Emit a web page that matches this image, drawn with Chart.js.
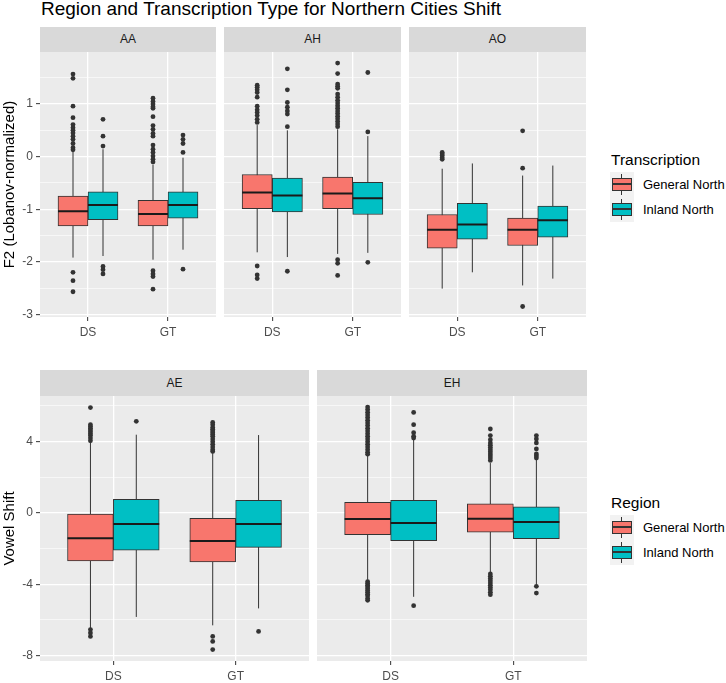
<!DOCTYPE html>
<html>
<head>
<meta charset="utf-8">
<title>Region and Transcription Type for Northern Cities Shift</title>
<script src="https://cdn.jsdelivr.net/npm/chart.js@4.4.0/dist/chart.umd.min.js"></script>
<style>
    body { margin: 0; background: #fff; font-family: "Liberation Sans", Arial, sans-serif; }
    #page { position: relative; width: 726px; height: 683px; overflow: hidden; background: #fff; }
    .panel { position: absolute; }
    .strip { position: absolute; background: #D9D9D9; color: #1A1A1A; font-size: 12px; text-align: center; }
    .title { position: absolute; left: 41px; top: -1px; font-size: 19px; line-height: 20px; color: #000; white-space: nowrap; }
    .ltitle { position: absolute; font-size: 15.5px; line-height: 18px; color: #000; white-space: nowrap; }
    .ltext { position: absolute; font-size: 13px; line-height: 18px; color: #000; white-space: nowrap; }
    .key { position: absolute; width: 24px; height: 25px; background: #F2F2F2; }
    .key .wh { position: absolute; left: 11px; top: 2px; width: 1px; height: 21px; background: #333; }
    .key .bx { position: absolute; left: 2px; top: 6px; width: 18px; height: 11px; border: 1px solid #333; }
    .key .md { position: absolute; left: 3px; top: 11px; width: 18px; height: 2px; background: #333; }
</style>
</head>
<body>
<div id="page">
    <div class="title">Region and Transcription Type for Northern Cities Shift</div>
</div>
<script>
    // categories and series
    var groups = ['DS', 'GT'];
    var seriesNames = ['General North', 'Inland North'];
    var seriesColors = ['#F8766D', '#00BFC4'];

    // box stats per group (DS, GT): [lower whisker, Q1, median, Q3, upper whisker]
    var aaGeneral = [[-1.92, -1.32, -1.04, -0.75, 0.10], [-1.96, -1.32, -1.09, -0.83, -0.15]];
    var aaInland = [[-1.89, -1.20, -0.92, -0.67, 0.14], [-1.77, -1.17, -0.92, -0.67, -0.02]];
    var ahGeneral = [[-1.82, -0.99, -0.68, -0.34, 0.60], [-1.85, -0.99, -0.70, -0.39, 0.52]];
    var ahInland = [[-1.91, -1.05, -0.74, -0.41, 0.50], [-1.83, -1.10, -0.79, -0.49, 0.39]];
    var aoGeneral = [[-2.51, -1.74, -1.39, -1.10, -0.23], [-2.45, -1.69, -1.39, -1.17, -0.36]];
    var aoInland = [[-2.20, -1.57, -1.29, -0.89, -0.13], [-2.32, -1.53, -1.21, -0.94, -0.17]];
    var aeGeneral = [[-6.45, -2.69, -1.42, -0.06, 3.93], [-6.30, -2.75, -1.57, -0.30, 3.36]];
    var aeInland = [[-5.83, -2.09, -0.62, 0.77, 4.39], [-5.35, -1.93, -0.62, 0.71, 4.37]];
    var ehGeneral = [[-3.75, -1.21, -0.34, 0.60, 3.20], [-3.36, -1.07, -0.32, 0.52, 2.80]];
    var ehInland = [[-4.70, -1.55, -0.56, 0.71, 4.11], [-4.02, -1.44, -0.50, 0.34, 2.99]];

    // outliers per group (DS, GT)
    var aaGeneralOut = [[1.57, 1.49, 0.96, 0.74, 0.61, 0.55, 0.50, 0.45, 0.39, 0.33, 0.25, 0.17, 0.13, -2.20, -2.36, -2.57],
        [1.11, 1.05, 1.00, 0.95, 0.92, 0.76, 0.59, 0.52, 0.44, 0.39, 0.22, 0.14, 0.08, 0.01, -0.05, -0.10, -2.17, -2.23, -2.28, -2.52]];
    var aaInlandOut = [[0.71, 0.39, 0.20, -2.09, -2.15, -2.23], [0.41, 0.33, 0.25, 0.08, -2.14]];
    var ahGeneralOut = [[1.36, 1.32, 1.27, 1.22, 1.13, 0.96, 0.89, 0.84, 0.78, 0.71, 0.65, -2.08, -2.25, -2.32],
        [1.78, 1.58, 1.38, 1.34, 1.30, 1.19, 1.13, 1.07, 1.02, 0.97, 0.92, 0.87, 0.82, 0.77, 0.72, 0.67, 0.62, 0.57, -1.96, -2.03, -2.26]];
    var ahInlandOut = [[1.67, 1.27, 1.03, 0.94, 0.87, 0.81, 0.57, -2.18], [1.60, 0.47, -2.01]];
    var aoGeneralOut = [[0.08, 0.05, 0.02, -0.02, -0.05], [0.49, -0.22, -2.85]];
    var aoInlandOut = [[], []];
    var aeGeneralOut = [[5.91, 4.95, 4.85, 4.75, 4.65, 4.55, 4.45, 4.35, 4.20, 4.05, -6.54, -6.73, -6.92],
        [5.08, 4.95, 4.80, 4.70, 4.60, 4.50, 4.40, 4.30, 4.15, 4.00, 3.85, 3.70, 3.55, 3.45, -6.92, -7.20, -7.66]];
    var aeInlandOut = [[5.14], [-6.64]];
    var ehGeneralOut = [[5.94, 5.80, 5.65, 5.50, 5.35, 5.20, 5.05, 4.90, 4.75, 4.60, 4.45, 4.30, 4.15, 4.00, 3.85, 3.70, 3.55, 3.40, 3.30,
        -3.85, -3.95, -4.05, -4.15, -4.25, -4.35, -4.45, -4.55, -4.65, -4.80, -4.90],
        [4.71, 4.34, 4.11, 3.93, 3.80, 3.67, 3.55, 3.43, 3.31, 3.20, 3.08, 2.95, -3.42, -3.55, -3.68, -3.80, -3.92, -4.05, -4.18, -4.30, -4.45, -4.58]];
    var ehInlandOut = [[5.64, 4.95, 4.50, 4.30, 4.20, -5.20], [4.34, 4.15, 3.93, 3.59, 3.31, 3.20, 3.08, -4.11, -4.49]];

    // y tick settings per row
    var topTicks = { min: -3.05, max: 1.99, minor: 0.5, major: 1 };
    var bottomTicks = { min: -8.3, max: 6.56, minor: 2, major: 4 };

    Chart.defaults.font.family = '"Liberation Sans", Arial, sans-serif';
    Chart.defaults.animation = false;
    Chart.defaults.plugins.legend.display = false;
    Chart.defaults.plugins.tooltip.enabled = false;

    var page = document.getElementById('page');

    // grey panel background
    var panelBg = {
        id: 'panelBg',
        beforeDraw: function (chart) {
            var a = chart.chartArea;
            var ctx = chart.ctx;
            ctx.save();
            ctx.fillStyle = '#EBEBEB';
            ctx.fillRect(a.left, a.top, a.right - a.left, a.bottom - a.top);
            ctx.restore();
        }
    };

    function buildDatasets(general, inland, generalOut, inlandOut, boxPx) {
        var stats = [general, inland];
        var outs = [generalOut, inlandOut];
        var datasets = [];
        var whiskers = [], medians = [], points = [];
        for (var s = 0; s < 2; s++) {
            var shift = s === 0 ? -0.1875 : 0.1875;
            var boxes = [];
            for (var g = 0; g < groups.length; g++) {
                var x = g + 1 + shift;
                var st = stats[s][g];
                boxes.push({ x: x, y: [st[1], st[3]] });
                whiskers.push({ x: x, y: st[0] }, { x: x, y: st[4] }, { x: x, y: null });
                medians.push({ x: x - 0.1875, y: st[2] }, { x: x + 0.1875, y: st[2] }, { x: x, y: null });
                outs[s][g].forEach(function (v) {
                    points.push({ x: x, y: v });
                });
            }
            datasets.push({
                type: 'bar',
                label: seriesNames[s],
                data: boxes,
                backgroundColor: seriesColors[s],
                borderColor: '#333333',
                borderWidth: 1,
                borderSkipped: false,
                grouped: false,
                barThickness: boxPx,
                order: 2
            });
        }
        datasets.push({
            type: 'line', label: 'whiskers', data: whiskers,
            borderColor: '#333333', borderWidth: 1, pointRadius: 0, spanGaps: false, order: 3
        });
        datasets.push({
            type: 'line', label: 'medians', data: medians,
            borderColor: '#1A1A1A', borderWidth: 2, pointRadius: 0, spanGaps: false, order: 0
        });
        datasets.push({
            type: 'scatter', label: 'outliers', data: points,
            backgroundColor: '#333333', borderWidth: 0, pointRadius: 2.4, order: 1
        });
        return datasets;
    }

    function makePanel(p) {
        var areaW = p.width - p.axisW;
        var strip = document.createElement('div');
        strip.className = 'strip';
        strip.style.left = (p.left + p.axisW) + 'px';
        strip.style.top = p.stripTop + 'px';
        strip.style.width = areaW + 'px';
        strip.style.height = (p.top - p.stripTop) + 'px';
        strip.style.lineHeight = (p.top - p.stripTop) + 'px';
        strip.textContent = p.name;
        page.appendChild(strip);

        var wrap = document.createElement('div');
        wrap.className = 'panel';
        wrap.style.left = p.left + 'px';
        wrap.style.top = p.top + 'px';
        wrap.style.width = p.width + 'px';
        wrap.style.height = p.height + 'px';
        var canvas = document.createElement('canvas');
        wrap.appendChild(canvas);
        page.appendChild(wrap);

        var t = p.ticks;
        var isMajor = function (v) {
            return Math.abs(v / t.major - Math.round(v / t.major)) < 1e-6;
        };
        var boxPx = areaW / 2.2 * 0.375;

        new Chart(canvas, {
            type: 'bar',
            data: { datasets: buildDatasets(p.general, p.inland, p.generalOut, p.inlandOut, boxPx) },
            options: {
                responsive: true,
                maintainAspectRatio: false,
                layout: { padding: 0, autoPadding: false },
                scales: {
                    x: {
                        type: 'linear', min: 0.4, max: 2.6, offset: false,
                        border: { display: false },
                        grid: { color: '#FFFFFF', lineWidth: 1.3, offset: false, drawTicks: true, tickLength: 4, tickColor: '#333333', tickWidth: 1 },
                        ticks: {
                            stepSize: 1, includeBounds: false, autoSkip: false, maxRotation: 0, padding: 4,
                            color: '#4D4D4D', font: { size: 12 },
                            callback: function (v) { return groups[v - 1] || ''; }
                        },
                        afterFit: function (s) {
                            s.height = p.height - 265;
                            s.paddingLeft = 0;
                            s.paddingRight = 0;
                        }
                    },
                    y: {
                        type: 'linear', min: t.min, max: t.max,
                        border: { display: false },
                        grid: {
                            color: '#FFFFFF',
                            lineWidth: function (c) { return c.tick && isMajor(c.tick.value) ? 1.3 : 0.6; },
                            drawTicks: p.axisW > 0, tickLength: 4, tickWidth: 1,
                            tickColor: function (c) { return c.tick && isMajor(c.tick.value) ? '#333333' : 'rgba(0,0,0,0)'; }
                        },
                        ticks: {
                            display: p.axisW > 0, stepSize: t.minor, includeBounds: false, autoSkip: false, padding: 3,
                            color: '#4D4D4D', font: { size: 12 },
                            callback: function (v) { return isMajor(v) ? String(v) : ''; }
                        },
                        title: {
                            display: !!p.yTitle, text: p.yTitle || '', color: '#000000',
                            font: { size: 15 }, padding: { top: 1, bottom: 0 }
                        },
                        afterFit: function (s) {
                            s.width = p.axisW;
                            s.paddingTop = 0;
                            s.paddingBottom = 0;
                        }
                    }
                }
            },
            plugins: [panelBg]
        });
    }

    makePanel({ name: 'AA', left: 0, top: 52, stripTop: 27, width: 216, height: 293, axisW: 40, ticks: topTicks,
        yTitle: 'F2 (Lobanov-normalized)', general: aaGeneral, inland: aaInland, generalOut: aaGeneralOut, inlandOut: aaInlandOut });
    makePanel({ name: 'AH', left: 224, top: 52, stripTop: 27, width: 177, height: 293, axisW: 0, ticks: topTicks,
        general: ahGeneral, inland: ahInland, generalOut: ahGeneralOut, inlandOut: ahInlandOut });
    makePanel({ name: 'AO', left: 409, top: 52, stripTop: 27, width: 177, height: 293, axisW: 0, ticks: topTicks,
        general: aoGeneral, inland: aoInland, generalOut: aoGeneralOut, inlandOut: aoInlandOut });
    makePanel({ name: 'AE', left: 0, top: 396, stripTop: 370, width: 309, height: 287, axisW: 40, ticks: bottomTicks,
        yTitle: 'Vowel Shift', general: aeGeneral, inland: aeInland, generalOut: aeGeneralOut, inlandOut: aeInlandOut });
    makePanel({ name: 'EH', left: 317, top: 396, stripTop: 370, width: 270, height: 287, axisW: 0, ticks: bottomTicks,
        general: ehGeneral, inland: ehInland, generalOut: ehGeneralOut, inlandOut: ehInlandOut });

    // legends
    function makeLegend(title, top) {
        var lt = document.createElement('div');
        lt.className = 'ltitle';
        lt.style.left = '611px';
        lt.style.top = (top - 21) + 'px';
        lt.textContent = title;
        page.appendChild(lt);
        seriesNames.forEach(function (name, i) {
            var key = document.createElement('div');
            key.className = 'key';
            key.style.left = '610px';
            key.style.top = (top + i * 25) + 'px';
            key.innerHTML = '<i class="wh"></i><i class="bx" style="background:' + seriesColors[i] + '"></i><i class="md"></i>';
            page.appendChild(key);
            var txt = document.createElement('div');
            txt.className = 'ltext';
            txt.style.left = '643px';
            txt.style.top = (top + i * 25 + 4) + 'px';
            txt.textContent = name;
            page.appendChild(txt);
        });
    }
    makeLegend('Transcription', 172);
    makeLegend('Region', 515);
</script>
</body>
</html>
